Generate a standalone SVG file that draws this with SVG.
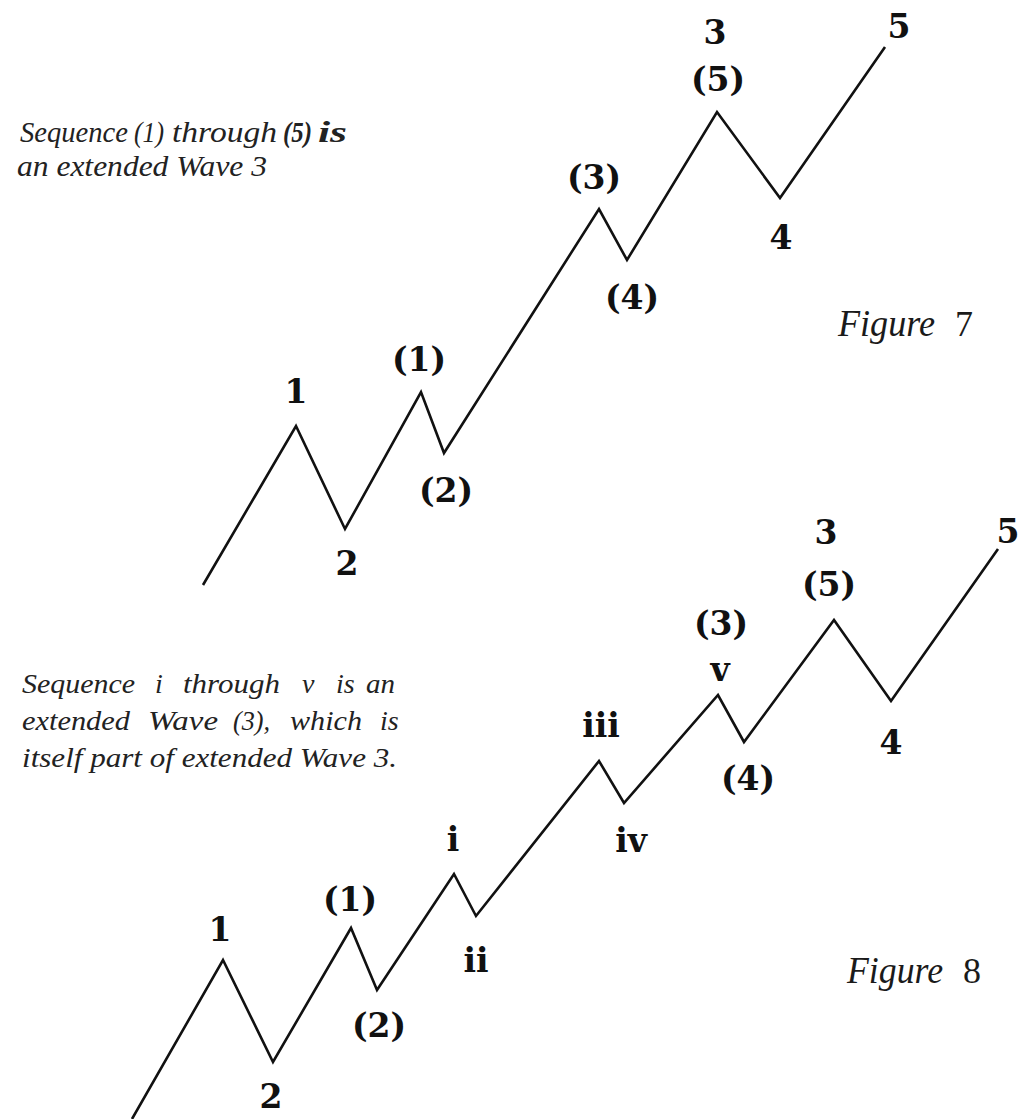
<svg xmlns="http://www.w3.org/2000/svg" width="1020" height="1119" viewBox="0 0 1020 1119">
<style>
.wave{fill:none;stroke:#111;stroke-width:2.6;stroke-linejoin:miter;stroke-miterlimit:10}
.lbl{font-family:"DejaVu Serif","Liberation Serif",serif;font-weight:bold;font-size:33px;fill:#111;text-anchor:middle}
.note{font-family:"Liberation Serif",serif;font-style:italic;font-size:30px;fill:#222}
.note8{font-family:"Liberation Serif",serif;font-style:italic;font-size:28px;fill:#222}
.fig{font-family:"Liberation Serif",serif;font-style:italic;font-size:38px;fill:#1a1a1a}
.fignum{font-family:"Liberation Serif",serif;font-size:36px;fill:#1a1a1a}
</style>
<rect width="1020" height="1119" fill="#ffffff"/>
<g id="connectors">
<polyline id="wave7" class="wave" points="203,585 296,426 345,529 421,392 444,453 599,209 627,260 717,112 780,198 885,47"/>
<polyline id="wave8" class="wave" points="132,1119 223,960 273,1062 351,928 377,990 454,874 476,916 599,761 624,803 718,695 744,742 834,620 891,701 998,549"/>
</g>
<g id="figure7-note">
<text class="note" x="20" y="142" textLength="108" lengthAdjust="spacingAndGlyphs">Sequence</text>
<text class="note" x="134" y="142" textLength="30" lengthAdjust="spacingAndGlyphs">(1)</text>
<text class="note" x="172" y="142" textLength="105" lengthAdjust="spacingAndGlyphs">through</text>
<text class="note" x="283" y="142" textLength="29" lengthAdjust="spacingAndGlyphs" font-weight="bold">(5)</text>
<text class="note" x="318" y="142" textLength="29" lengthAdjust="spacingAndGlyphs" font-weight="bold" font-style="normal">is</text>
<text class="note" x="17" y="176" textLength="250" lengthAdjust="spacingAndGlyphs">an extended Wave 3</text>
</g>
<g id="figure7-labels">
<g id="n7-1"><text class="lbl" x="296" y="403">1</text></g>
<g id="n7-2"><text class="lbl" x="347" y="575">2</text></g>
<g id="n7-p1"><text class="lbl" x="419" y="371">(1)</text></g>
<g id="n7-p2"><text class="lbl" x="446" y="502">(2)</text></g>
<g id="n7-p3"><text class="lbl" x="594" y="189">(3)</text></g>
<g id="n7-p4"><text class="lbl" x="632" y="309">(4)</text></g>
<g id="n7-p5"><text class="lbl" x="718" y="91">(5)</text></g>
<g id="n7-3"><text class="lbl" x="715" y="44">3</text></g>
<g id="n7-4"><text class="lbl" x="781" y="249">4</text></g>
<g id="n7-5"><text class="lbl" x="899" y="38">5</text></g>
</g>
<g id="figure7-title">
<text class="fig" x="838" y="336" textLength="97" lengthAdjust="spacingAndGlyphs">Figure</text>
<text class="fignum" x="955" y="336">7</text>
</g>
<g id="figure8-note">
<text class="note8" x="22" y="693" textLength="113" lengthAdjust="spacingAndGlyphs">Sequence</text>
<text class="note8" x="155" y="693">i</text>
<text class="note8" x="183" y="693" textLength="97" lengthAdjust="spacingAndGlyphs">through</text>
<text class="note8" x="302" y="693">v</text>
<text class="note8" x="336" y="693">is</text>
<text class="note8" x="366" y="693" textLength="29" lengthAdjust="spacingAndGlyphs">an</text>
<text class="note8" x="22" y="730" textLength="108" lengthAdjust="spacingAndGlyphs">extended</text>
<text class="note8" x="148" y="730" textLength="70" lengthAdjust="spacingAndGlyphs">Wave</text>
<text class="note8" x="233" y="730" textLength="37" lengthAdjust="spacingAndGlyphs">(3),</text>
<text class="note8" x="290" y="730" textLength="72" lengthAdjust="spacingAndGlyphs">which</text>
<text class="note8" x="380" y="730">is</text>
<text class="note8" x="22" y="767" textLength="375" lengthAdjust="spacingAndGlyphs">itself part of extended Wave 3.</text>
</g>
<g id="figure8-labels">
<g id="n8-1"><text class="lbl" x="220" y="941">1</text></g>
<g id="n8-2"><text class="lbl" x="271" y="1108">2</text></g>
<g id="n8-p1"><text class="lbl" x="350" y="911">(1)</text></g>
<g id="n8-p2"><text class="lbl" x="379" y="1037">(2)</text></g>
<g id="n8-i"><text class="lbl" x="453" y="851">i</text></g>
<g id="n8-ii"><text class="lbl" x="476" y="972">ii</text></g>
<g id="n8-iii"><text class="lbl" x="601" y="737">iii</text></g>
<g id="n8-iv"><text class="lbl" x="631" y="852">iv</text></g>
<g id="n8-v"><text class="lbl" x="720" y="681">v</text></g>
<g id="n8-p3"><text class="lbl" x="721" y="635">(3)</text></g>
<g id="n8-p4"><text class="lbl" x="748" y="790">(4)</text></g>
<g id="n8-p5"><text class="lbl" x="829" y="596">(5)</text></g>
<g id="n8-3"><text class="lbl" x="826" y="544">3</text></g>
<g id="n8-4"><text class="lbl" x="891" y="754">4</text></g>
<g id="n8-5"><text class="lbl" x="1008" y="543">5</text></g>
</g>
<g id="figure8-title">
<text class="fig" x="847" y="983" textLength="96" lengthAdjust="spacingAndGlyphs">Figure</text>
<text class="fignum" x="963" y="983">8</text>
</g>
</svg>
